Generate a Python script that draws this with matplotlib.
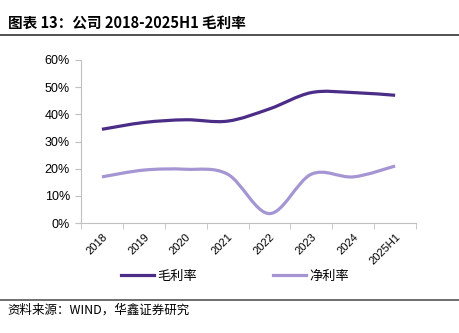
import numpy as np
import matplotlib.pyplot as plt
from matplotlib.path import Path
from matplotlib.patches import PathPatch
from matplotlib.lines import Line2D

plt.rcParams['font.family'] = ['Noto Sans CJK SC', 'DejaVu Sans']

years = ['2018', '2019', '2020', '2021', '2022', '2023', '2024', '2025H1']
gross_margin = [34.5, 37.0, 38.0, 37.5, 42.0, 48.0, 48.0, 47.0]
net_margin = [17.0, 19.5, 19.8, 18.0, 3.5, 18.0, 17.0, 21.0]

c_gross = '#4b2c86'
c_net = '#a596d3'


def smooth_path(x, y, t=1 / 6):
    # Excel-like smoothed line via cubic bezier segments
    x = np.asarray(x, float)
    y = np.asarray(y, float)
    n = len(x)
    verts = [(x[0], y[0])]
    codes = [Path.MOVETO]
    for i in range(n - 1):
        p0 = (x[max(i - 1, 0)], y[max(i - 1, 0)])
        p1 = (x[i], y[i])
        p2 = (x[i + 1], y[i + 1])
        p3 = (x[min(i + 2, n - 1)], y[min(i + 2, n - 1)])
        c1 = (p1[0] + (p2[0] - p0[0]) * t, p1[1] + (p2[1] - p0[1]) * t)
        c2 = (p2[0] - (p3[0] - p1[0]) * t, p2[1] - (p3[1] - p1[1]) * t)
        verts += [c1, c2, p2]
        codes += [Path.CURVE4] * 3
    return Path(verts, codes)


fig = plt.figure(figsize=(4.59, 3.33), dpi=100)
ax = fig.add_axes([0.1765, 0.33, 0.73, 0.49])

xs = np.arange(len(years))
for vals, col in [(gross_margin, c_gross), (net_margin, c_net)]:
    ax.add_patch(PathPatch(smooth_path(xs, vals), fill=False, edgecolor=col,
                           lw=2.3, capstyle='butt'))

ax.set_xlim(-0.5, len(years) - 0.5)
ax.set_ylim(0, 60)
ax.set_yticks(range(0, 61, 10))
ax.set_yticklabels([f'{v}%' for v in range(0, 61, 10)], fontsize=9,
                   family=['Liberation Sans'])
ax.set_xticks(xs)
ax.set_xticklabels(years, rotation=45, fontsize=8, ha='right',
                   rotation_mode='anchor', family=['Liberation Sans'])
ax.set_xticks(np.arange(-0.5, len(years)), minor=True)
ax.tick_params(axis='x', which='major', length=0, pad=6)
ax.tick_params(axis='x', which='minor', length=4, color='#c0c0c0')
ax.tick_params(axis='y', length=4, color='#c0c0c0', pad=4)
for s in ['top', 'right']:
    ax.spines[s].set_visible(False)
for s in ['left', 'bottom']:
    ax.spines[s].set_color('#c0c0c0')

handles = [Line2D([], [], color=c_gross, lw=2.3),
           Line2D([], [], color=c_net, lw=2.3)]
fig.legend(handles, ['毛利率', '净利率'], loc='center', ncol=2,
           bbox_to_anchor=(0.512, 0.17), frameon=False, fontsize=9.5,
           handlelength=2.5, handletextpad=0.2, columnspacing=5.8)

fig.text(0.017, 0.933, '图表 13：公司 2018-2025H1 毛利率', fontsize=10.5,
         fontweight='bold', va='center')
fig.add_artist(Line2D([0.0, 1.0], [0.895, 0.895], color='#333333', lw=1.2))
fig.add_artist(Line2D([0.0, 1.0], [0.1, 0.1], color='#555555', lw=1.2))
fig.text(0.017, 0.068, '资料来源：WIND，华鑫证券研究', fontsize=9, va='center')

fig.savefig('out.png', dpi=100)
